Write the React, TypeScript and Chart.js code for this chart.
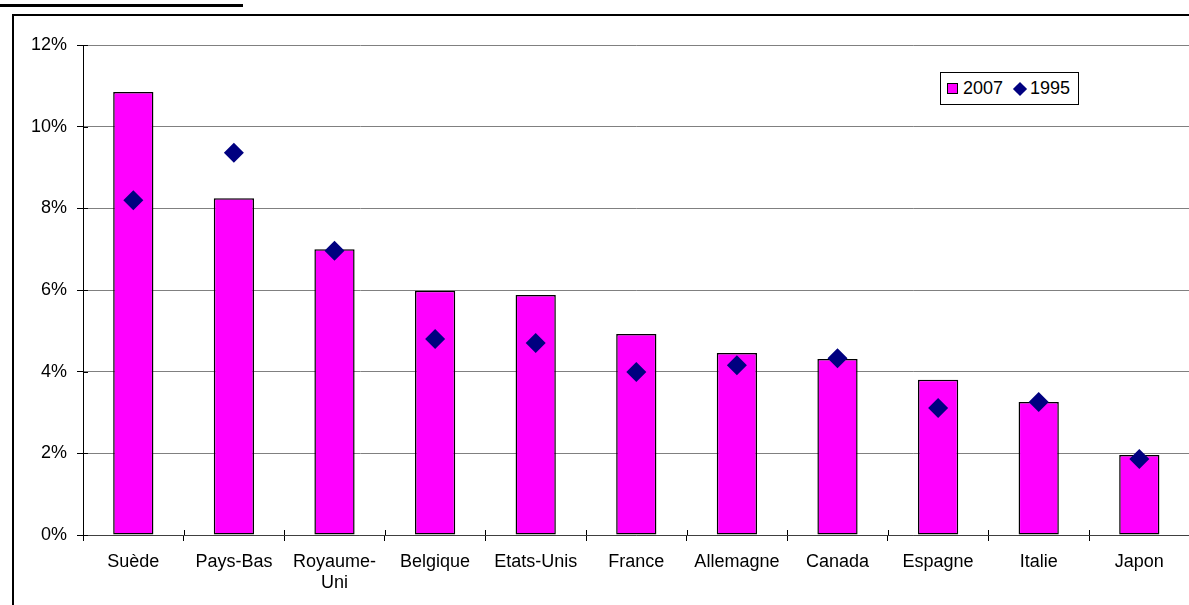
import React, { useEffect, useRef } from "react";
import { Chart, registerables } from "chart.js";

Chart.register(...registerables);

const categories: (string | string[])[] = [
  "Suède",
  "Pays-Bas",
  ["Royaume-", "Uni"],
  "Belgique",
  "Etats-Unis",
  "France",
  "Allemagne",
  "Canada",
  "Espagne",
  "Italie",
  "Japon",
];
const values2007 = [10.85, 8.25, 7.0, 5.98, 5.88, 4.92, 4.46, 4.31, 3.8, 3.26, 1.96];
const values1995 = [8.2, 9.36, 6.96, 4.8, 4.7, 3.99, 4.16, 4.33, 3.11, 3.26, 1.86];
const yTicks = [0, 2, 4, 6, 8, 10, 12];

const FONT = "'Liberation Sans', Arial, sans-serif";
const FONT_SIZE = 18;

const crossTicks = {
  id: "crossTicks",
  afterDraw(chart: any) {
    const ctx = chart.ctx;
    const area = chart.chartArea;
    const y = chart.scales.y;
    const x = chart.scales.x;
    ctx.save();
    ctx.strokeStyle = "#000";
    ctx.lineWidth = 1;
    ctx.beginPath();
    yTicks.forEach((t) => {
      const py = Math.round(y.getPixelForValue(t)) + 0.5;
      ctx.moveTo(area.left, py);
      ctx.lineTo(area.left + 5, py);
    });
    for (let i = 0; i <= categories.length; i++) {
      const px = Math.round(x.getPixelForValue(i - 0.5)) + 0.5;
      ctx.moveTo(px, area.bottom);
      ctx.lineTo(px, area.bottom - 5);
    }
    ctx.stroke();
    ctx.restore();
  },
};

export default function App() {
  const canvasRef = useRef<HTMLCanvasElement | null>(null);

  useEffect(() => {
    const canvas = canvasRef.current;
    if (!canvas) return;
    const chart = new Chart(canvas, {
      type: "bar",
      data: {
        labels: categories as any,
        datasets: [
          {
            type: "line",
            label: "1995",
            data: values1995,
            showLine: false,
            pointStyle: "rectRot",
            pointRadius: 10,
            pointHoverRadius: 10,
            pointBackgroundColor: "#000080",
            pointBorderColor: "#000080",
            pointBorderWidth: 0,
            order: 0,
          } as any,
          {
            type: "bar",
            label: "2007",
            data: values2007,
            backgroundColor: "#FF00FF",
            borderColor: "#000000",
            borderWidth: 1.5,
            borderSkipped: false,
            barPercentage: 0.4,
            categoryPercentage: 1,
            order: 1,
          },
        ],
      },
      options: {
        responsive: false,
        animation: false,
        layout: { padding: { left: 0, right: 24.4, top: 29, bottom: 0 } },
        plugins: {
          legend: { display: false },
          tooltip: { enabled: false },
          title: { display: false },
        },
        scales: {
          x: {
            offset: true,
            grid: {
              offset: true,
              drawOnChartArea: false,
              drawTicks: true,
              tickLength: 6,
              tickColor: "#000",
            },
            border: { color: "#404040", width: 1 },
            ticks: {
              color: "#000",
              padding: 10,
              maxRotation: 0,
              autoSkip: false,
              font: { family: FONT, size: FONT_SIZE },
            },
            afterFit(scale: any) {
              scale.height = 71;
            },
          },
          y: {
            min: 0,
            max: 12,
            afterBuildTicks(scale: any) {
              scale.ticks = yTicks.map((v) => ({ value: v }));
            },
            grid: {
              color: "#808080",
              lineWidth: 1,
              drawTicks: true,
              tickLength: 6,
              tickColor: "#000",
            },
            border: { color: "#000", width: 1 },
            ticks: {
              color: "#000",
              padding: 10,
              font: { family: FONT, size: FONT_SIZE },
              callback: (v: any) => `${v}%`,
            },
            afterFit(scale: any) {
              scale.width = 69;
            },
          },
        },
      },
      plugins: [crossTicks],
    });
    return () => chart.destroy();
  }, []);

  return (
    <div
      style={{
        position: "fixed",
        left: 0,
        top: 0,
        width: 1189,
        height: 605,
        overflow: "hidden",
        background: "#fff",
      }}
    >
      <div
        style={{
          position: "absolute",
          left: 0,
          top: -18,
          whiteSpace: "nowrap",
          fontFamily: "'Liberation Serif', 'Times New Roman', serif",
          fontWeight: "bold",
          fontSize: 22,
          lineHeight: "22px",
          letterSpacing: "3px",
          color: "#000",
        }}
      >
        entre 20 et 8 ans
      </div>
      <div
        style={{
          position: "absolute",
          left: 0,
          top: 4,
          width: 243,
          height: 3,
          background: "#000",
        }}
      />
      <div
        style={{
          position: "absolute",
          left: 12,
          top: 14,
          width: 1300,
          height: 700,
          borderLeft: "2px solid #000",
          borderTop: "2px solid #000",
        }}
      />
      <canvas
        ref={canvasRef}
        width={1200}
        height={590}
        style={{ position: "absolute", left: 14, top: 16, width: 1200, height: 590 }}
      />
      <div
        style={{
          position: "absolute",
          left: 940,
          top: 72,
          width: 137,
          height: 31,
          border: "1px solid #000",
          background: "#fff",
          fontFamily: FONT,
          fontSize: FONT_SIZE,
          color: "#000",
        }}
      >
        <div
          style={{
            position: "absolute",
            left: 6,
            top: 10,
            width: 9,
            height: 9,
            background: "#FF00FF",
            border: "1px solid #000",
          }}
        />
        <div style={{ position: "absolute", left: 22, top: 5, lineHeight: "20px" }}>2007</div>
        <div
          style={{
            position: "absolute",
            left: 74,
            top: 11,
            width: 10,
            height: 10,
            background: "#000080",
            transform: "rotate(45deg)",
          }}
        />
        <div style={{ position: "absolute", left: 89, top: 5, lineHeight: "20px" }}>1995</div>
      </div>
    </div>
  );
}
